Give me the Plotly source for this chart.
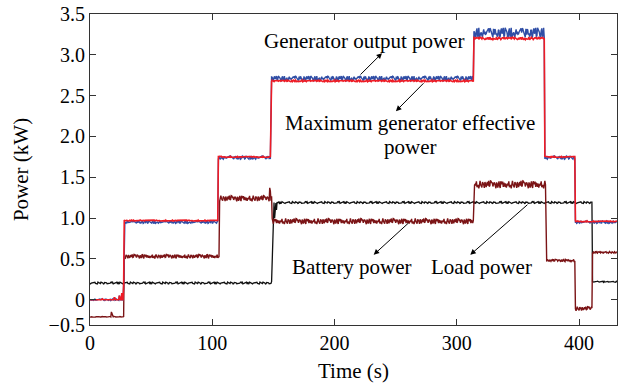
import plotly.graph_objects as go

# ---------------- data ----------------
# generator segments: edges (s) and levels (kW)
gen_edges = [0, 28, 105, 148, 314, 372, 397, 431]
gen_max_levels = [0.0, 0.97, 1.75, 2.68, 3.20, 1.75, 0.96]
gen_out_levels = [0.0, 0.95, 1.74, 2.71, 3.27, 1.74, 0.95]
gen_out_noise = [0.01, 0.015, 0.02, 0.03, 0.06, 0.02, 0.015]
gen_max_noise = [0.0, 0.006, 0.006, 0.01, 0.015, 0.006, 0.006]
# start-up ramp of the generator before the first step
gen_ramp_t = [0, 10, 20, 24, 26, 27.5]
gen_ramp_p = [0.0, 0.01, 0.03, 0.05, 0.08, 0.18]

# battery segments
bat_edges = [0, 28, 106, 149, 314, 373, 397, 411, 431]
bat_levels = [-0.21, 0.53, 1.24, 0.96, 1.41, 0.48, -0.11, 0.58]
bat_noise = [0.004, 0.025, 0.035, 0.035, 0.045, 0.015, 0.025, 0.01]
bat_spike_t = [17.5, 18, 147, 147.5]
bat_spike_p = [-0.15, -0.17, 1.37, 1.33]

# load segments
load_edges = [0, 149, 411, 431]
load_levels = [0.205, 1.19, 0.22]
load_noise = [0.012, 0.012, 0.006]
load_ramp_t = [148.5, 149, 149.5, 150, 151, 152.5, 155]
load_ramp_p = [0.22, 0.45, 0.62, 0.85, 1.0, 1.1, 1.17]

# hand-typed fluctuation pattern (normalised)
jitter = [0.3, -0.8, 0.5, 1.0, -0.2, -0.9, 0.7, 0.1, -0.5, 0.9, -1.0, 0.4, 0.8,
          -0.3, -0.7, 0.6, 0.0, -0.6, 1.0, -0.4, 0.2, -0.9, 0.5, 0.9, -0.1, -0.8,
          0.7, -0.3, 0.4, -1.0, 0.8, 0.1, -0.6, 0.6, -0.2, 0.9, -0.7, 0.3, -0.5,
          1.0, -0.4, 0.2, -0.8, 0.5, 0.0, -0.9, 0.7, -0.1, 0.6, -0.6, 0.9, -0.3, 0.1]

x_ticks = [0, 100, 200, 300, 400]
y_tickvals = [-0.31, 0, 0.5, 1.0, 1.5, 2.0, 2.5, 3.0, 3.5]
y_ticktext = ["\u22120.5", "0", "0.5", "1.0", "1.5", "2.0", "2.5", "3.0", "3.5"]

DT = 0.5


def build(edges, levels, noise, mult, offset, extra_t=(), extra_p=()):
    xs, ys = [], []
    n = int(round(edges[-1] / DT))
    extras = dict(zip(extra_t, extra_p))
    for i in range(n + 1):
        t = i * DT
        seg = len(levels) - 1
        for k in range(len(levels)):
            if edges[k] <= t < edges[k + 1]:
                seg = k
                break
        v = levels[seg] + noise[seg] * jitter[(i * mult + offset) % len(jitter)]
        if t in extras:
            v = extras[t]
        xs.append(t)
        ys.append(v)
    return xs, ys


gx, gy_out = build(gen_edges, gen_out_levels, gen_out_noise, 7, 3, gen_ramp_t, gen_ramp_p)
_, gy_max = build(gen_edges, gen_max_levels, gen_max_noise, 11, 17, gen_ramp_t, gen_ramp_p)
bx, by = build(bat_edges, bat_levels, bat_noise, 5, 29, bat_spike_t, bat_spike_p)
lx, ly = build(load_edges, load_levels, load_noise, 13, 8, load_ramp_t, load_ramp_p)

FONT = "Liberation Serif"

fig = go.Figure()
fig.add_trace(go.Scatter(x=lx, y=ly, mode="lines", line=dict(color="#111111", width=1.3),
                         name="Load power"))
fig.add_trace(go.Scatter(x=bx, y=by, mode="lines", line=dict(color="#7b1416", width=1.4),
                         name="Battery power"))
fig.add_trace(go.Scatter(x=gx, y=gy_out, mode="lines", line=dict(color="#2f4ea6", width=1.4),
                         name="Generator output power"))
fig.add_trace(go.Scatter(x=gx, y=gy_max, mode="lines", line=dict(color="#ee1c25", width=1.6),
                         name="Maximum generator effective power"))

ann_font = dict(family=FONT, size=21, color="black")
texts = [
    ("Generator output power", 224.9, 3.17),
    ("Maximum generator effective", 261.7, 2.165),
    ("power", 261.7, 1.875),
    ("Battery power", 214.0, 0.40),
    ("Load power", 320.5, 0.40),
]
for txt, x, y in texts:
    fig.add_annotation(x=x, y=y, text=txt, showarrow=False, font=ann_font,
                       xref="x", yref="y", borderpad=0)

arrows = [
    (238.8, 3.02, 220.0, 2.74),
    (250.2, 2.31, 274.0, 2.67),
    (232.0, 0.55, 261.6, 0.955),
    (311.0, 0.55, 359.0, 1.18),
]
for hx, hy, tx, ty in arrows:
    fig.add_annotation(x=hx, y=hy, ax=tx, ay=ty, xref="x", yref="y", axref="x", ayref="y",
                       text="", showarrow=True, arrowhead=2, arrowsize=1.1, arrowwidth=1,
                       arrowcolor="black")

axis_common = dict(showline=True, linecolor="#333333", linewidth=1.2, mirror="ticks",
                   ticks="inside", ticklen=6, tickcolor="#333333", showgrid=False,
                   zeroline=False, tickfont=dict(family=FONT, size=20, color="black"))

fig.update_xaxes(range=[0, 431], tickvals=x_ticks,
                 title=dict(text="Time (s)", font=dict(family=FONT, size=21, color="black"),
                            standoff=10),
                 **axis_common)
fig.update_yaxes(range=[-0.31, 3.5], tickvals=y_tickvals, ticktext=y_ticktext,
                 title=dict(text="Power (kW)", font=dict(family=FONT, size=21, color="black"),
                            standoff=14),
                 **axis_common)

fig.update_layout(width=621, height=385, margin=dict(l=90, r=4, t=14, b=60),
                  plot_bgcolor="white", paper_bgcolor="white", showlegend=False)

fig.write_html("out.html")
